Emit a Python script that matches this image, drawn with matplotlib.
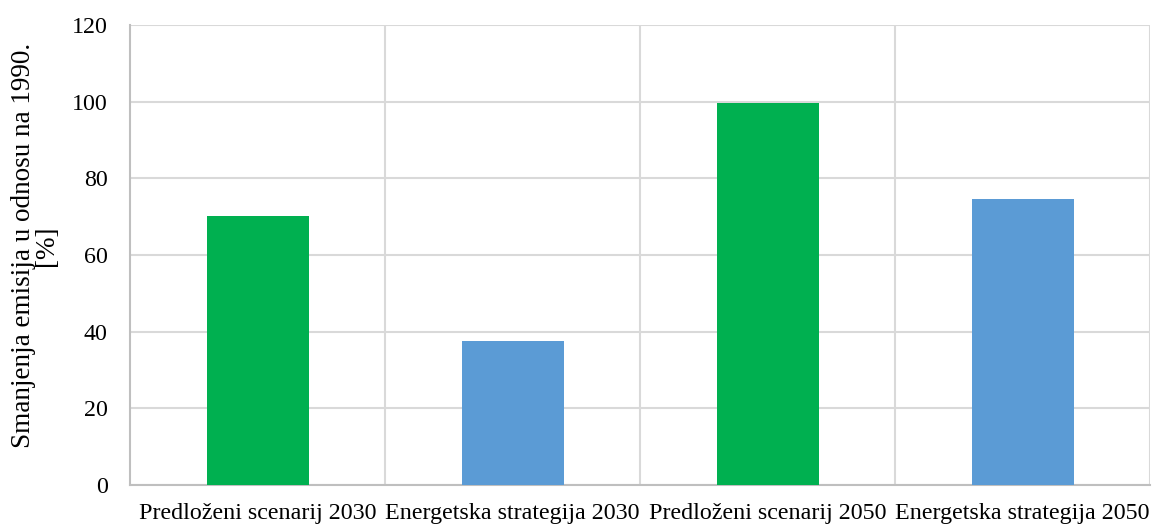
import numpy as np
from matplotlib import pyplot as plt

categories = ['Predloženi scenarij 2030', 'Energetska strategija 2030',
              'Predloženi scenarij 2050', 'Energetska strategija 2050']
values = [70.2, 37.5, 99.7, 74.5]
bar_colors = ['#00B050', '#5B9BD5', '#00B050', '#5B9BD5']
yticks = [0, 20, 40, 60, 80, 100, 120]

plt.rcParams['font.family'] = ['Liberation Serif', 'DejaVu Serif']

fig = plt.figure(figsize=(11.53, 5.25), dpi=100)
ax = fig.add_axes([0.1128, 0.0762, 0.8846, 0.8762])

x = np.arange(len(categories))
ax.bar(x, values, width=0.4, color=bar_colors, zorder=3)

ax.set_xlim(-0.5, len(categories) - 0.5)
ax.set_ylim(0, 120)
ax.set_yticks(yticks)
ax.set_xticks(x)
ax.set_xticklabels(categories, fontsize=17.3)
ax.tick_params(axis='y', labelsize=17.3, length=0, pad=16)
ax.tick_params(axis='x', length=0, pad=13)

# horizontal grid + vertical lines between categories
ax.grid(axis='y', color='#D9D9D9', linewidth=1.5, zorder=0)
for b in np.arange(0.5, len(categories), 1.0):
    ax.axvline(b, color='#D9D9D9', linewidth=1.5, zorder=0)

for side in ['top', 'right']:
    ax.spines[side].set_visible(False)
ax.spines['left'].set_color('#BFBFBF')
ax.spines['left'].set_linewidth(1.5)
ax.spines['bottom'].set_color('#BFBFBF')
ax.spines['bottom'].set_linewidth(1.5)

ax.set_ylabel('Smanjenja emisija u odnosu na 1990.\n[%]', fontsize=19.5,
              linespacing=0.9)
ax.yaxis.set_label_coords(-0.070, 0.52)

plt.savefig('out.png', dpi=100)
